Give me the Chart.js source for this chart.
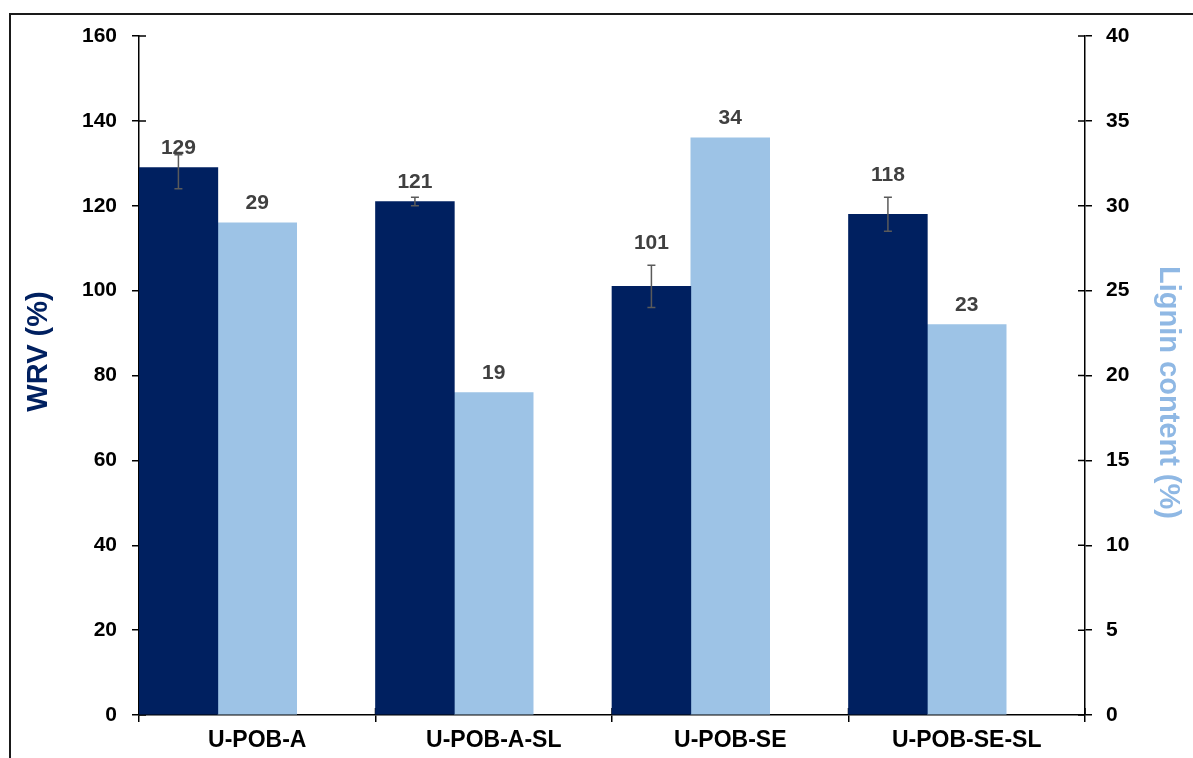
<!DOCTYPE html>
<html><head><meta charset="utf-8">
<script src="https://cdn.jsdelivr.net/npm/chart.js@4/dist/chart.umd.min.js"></script>
<style>
html,body{margin:0;padding:0;background:#fff;}
#wrap{position:relative;width:1193px;height:758px;overflow:hidden;background:#fff;}
#frame{position:absolute;left:9px;top:13px;width:1300px;height:900px;border-left:2px solid #1a1a1a;border-top:2px solid #1a1a1a;pointer-events:none;}
canvas{position:absolute;left:0;top:0;}
</style></head><body>
<div id="wrap"><canvas id="c" width="1193" height="758"></canvas><div id="frame"></div></div>
<script>
// ---- data ----
const categories = ['U-POB-A', 'U-POB-A-SL', 'U-POB-SE', 'U-POB-SE-SL'];
const wrv = [129, 121, 101, 118];
const wrvErrLow = [124, 120, 96, 114];
const wrvErrHigh = [132, 122, 106, 122];
const lignin = [29, 19, 34, 23];
const gapSlot = [null, null, null, null];
const wrvAxis = { min: 0, max: 160, step: 20 };
const ligninAxis = { min: 0, max: 40, step: 5 };

const FONT = "'Liberation Sans', Arial, sans-serif";
const DARK = '#002060';
const LIGHT = '#9DC3E6';

const crossTicks = {
  id: 'crossTicks',
  beforeDatasetsDraw(chart) {
    const ctx = chart.ctx, a = chart.chartArea;
    const { x, y, y1 } = chart.scales;
    ctx.save();
    ctx.strokeStyle = '#000';
    ctx.lineWidth = 1.5;
    ctx.beginPath();
    y.ticks.forEach((t, i) => { const p = y.getPixelForTick(i); ctx.moveTo(a.left, p); ctx.lineTo(a.left + 7, p); });
    y1.ticks.forEach((t, i) => { const p = y1.getPixelForTick(i); ctx.moveTo(a.right - 7, p); ctx.lineTo(a.right, p); });
    const n = categories.length;
    const w = (a.right - a.left) / n;
    for (let i = 0; i <= n; i++) {
      const p = x.getPixelForValue(Math.min(i, n - 1)) + (i < n ? -w / 2 : w / 2);
      ctx.moveTo(p, a.bottom - 7); ctx.lineTo(p, a.bottom);
    }
    ctx.stroke();
    ctx.restore();
  }
};

const errorAndLabels = {
  id: 'errorAndLabels',
  afterDatasetsDraw(chart) {
    const ctx = chart.ctx;
    const y = chart.scales.y;
    const m0 = chart.getDatasetMeta(0), m1 = chart.getDatasetMeta(1);
    ctx.save();
    // error bars
    ctx.strokeStyle = '#5a5a5a';
    ctx.lineWidth = 1.5;
    m0.data.forEach((bar, i) => {
      const hi = y.getPixelForValue(wrvErrHigh[i]), lo = y.getPixelForValue(wrvErrLow[i]);
      ctx.beginPath();
      ctx.moveTo(bar.x, hi); ctx.lineTo(bar.x, lo);
      ctx.moveTo(bar.x - 4, hi); ctx.lineTo(bar.x + 4, hi);
      ctx.moveTo(bar.x - 4, lo); ctx.lineTo(bar.x + 4, lo);
      ctx.stroke();
    });
    // value labels
    ctx.fillStyle = '#404040';
    ctx.font = 'bold 21px ' + FONT;
    ctx.textAlign = 'center';
    ctx.textBaseline = 'middle';
    m0.data.forEach((bar, i) => {
      const hi = y.getPixelForValue(wrvErrHigh[i]);
      const cy = (bar.y - hi > 15) ? hi - 22 : bar.y - 19.5;
      ctx.fillText(String(wrv[i]), bar.x, cy);
    });
    m1.data.forEach((bar, i) => {
      ctx.fillText(String(lignin[i]), bar.x, bar.y - 19.5);
    });
    // axis titles
    const a = chart.chartArea;
    const mid = (a.top + a.bottom) / 2;
    ctx.font = 'bold 29px ' + FONT;
    ctx.fillStyle = DARK;
    ctx.save();
    ctx.translate(39, mid - 24);
    ctx.rotate(-Math.PI / 2);
    ctx.fillText('WRV (%)', 0, 0);
    ctx.restore();
    ctx.fillStyle = '#8FB8E4';
    ctx.save();
    ctx.translate(1168, mid + 17);
    ctx.rotate(Math.PI / 2);
    ctx.fillText('Lignin content (%)', 0, 0);
    ctx.restore();
    ctx.restore();
  }
};

const tickFont = { family: FONT, size: 21, weight: 'bold' };

new Chart(document.getElementById('c'), {
  type: 'bar',
  data: {
    labels: categories,
    datasets: [
      { label: 'WRV (%)', data: wrv, yAxisID: 'y', backgroundColor: DARK, borderWidth: 0 },
      { label: 'Lignin content (%)', data: lignin, yAxisID: 'y1', backgroundColor: LIGHT, borderWidth: 0 },
      { label: '', data: gapSlot, yAxisID: 'y', backgroundColor: 'rgba(0,0,0,0)', borderWidth: 0 }
    ]
  },
  options: {
    responsive: false,
    animation: false,
    events: [],
    layout: { padding: { top: 36, left: 0, right: 0, bottom: 0 } },
    datasets: { bar: { categoryPercentage: 1.0, barPercentage: 1.0 } },
    plugins: { legend: { display: false }, tooltip: { enabled: false }, title: { display: false } },
    scales: {
      x: {
        type: 'category',
        offset: true,
        grid: { display: true, drawOnChartArea: false, drawTicks: true, tickLength: 7, color: '#000', lineWidth: 1.5, offset: true },
        border: { display: true, color: '#000', width: 1.5 },
        ticks: { color: '#000', font: { family: FONT, size: 23, weight: 'bold' }, padding: 5, maxRotation: 0, autoSkip: false },
        afterFit(s) { s.height = 43; }
      },
      y: {
        position: 'left',
        min: wrvAxis.min, max: wrvAxis.max,
        grid: { display: true, drawOnChartArea: false, drawTicks: true, tickLength: 7, color: '#000', lineWidth: 1.5 },
        border: { display: true, color: '#000', width: 1.5 },
        ticks: { stepSize: wrvAxis.step, color: '#000', font: tickFont, padding: 15 },
        afterFit(s) { s.width = 139; }
      },
      y1: {
        position: 'right',
        min: ligninAxis.min, max: ligninAxis.max,
        grid: { display: true, drawOnChartArea: false, drawTicks: true, tickLength: 7, color: '#000', lineWidth: 1.5 },
        border: { display: true, color: '#000', width: 1.5 },
        ticks: { stepSize: ligninAxis.step, color: '#000', font: tickFont, padding: 14 },
        afterFit(s) { s.width = 108; }
      }
    }
  },
  plugins: [crossTicks, errorAndLabels]
});
</script>
</body></html>
